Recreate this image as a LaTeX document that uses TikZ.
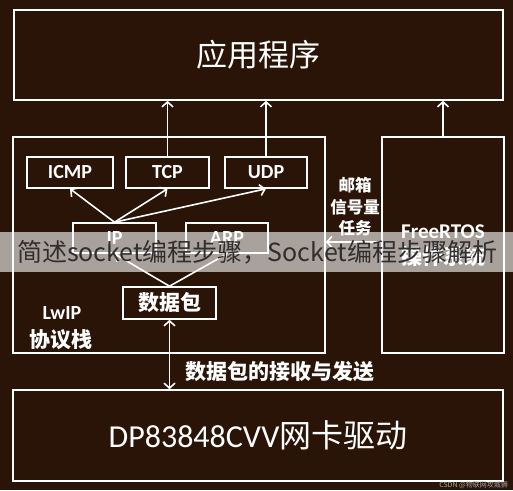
\documentclass[tikz,border=0pt]{standalone}
\usepackage{fontspec}
\setmainfont{Carlito}
\newfontfamily\cjk{Noto Sans CJK SC}
\usetikzlibrary{arrows.meta}
\definecolor{bg}{RGB}{42,20,8}
\definecolor{wmtext}{RGB}{48,46,46}
\begin{document}
\begin{tikzpicture}[x=1pt,y=-1pt,
  >={Straight Barb[length=5pt,width=11pt]},
  box/.style={draw=white, line width=1.6pt, inner sep=0pt, text=white},
  arr/.style={draw=white, line width=1.6pt},
  lbl/.style={text=white, inner sep=0pt, align=center},
  latb/.style={font=\bfseries\fontsize{20}{20}\selectfont},
  cjkb/.style={font=\cjk\bfseries\fontsize{#1}{#1}\selectfont}]
\fill[bg] (0,0) rectangle (513,490);
\useasboundingbox (0,0) rectangle (513,490);
% boxes
\node[box, minimum width=489pt, minimum height=90pt, font=\cjk\fontsize{31}{31}\selectfont] (app) at (258.5,55) {应用程序};
\node[box, minimum width=312pt, minimum height=216pt] (lwip) at (169,245) {};
\node[box, minimum width=122pt, minimum height=216pt] (fr) at (443,245) {};
\node[box, minimum width=490pt, minimum height=91pt, font=\fontsize{32}{32}\selectfont] (dp) at (258,435.5) {DP83848CVV{\cjk 网卡驱动}};
\node[box, latb, minimum width=86pt, minimum height=31pt] (icmp) at (70,172.5) {ICMP};
\node[box, latb, minimum width=83pt, minimum height=31pt] (tcp) at (167.5,172.5) {TCP};
\node[box, latb, minimum width=82pt, minimum height=31pt] (udp) at (266,172.5) {UDP};
\node[box, latb, minimum width=83pt, minimum height=30pt] (ip) at (114.5,238) {IP};
\node[box, latb, minimum width=82pt, minimum height=30pt] (arp) at (227,238) {ARP};
\node[box, cjkb=21, minimum width=93pt, minimum height=32pt] (pkt) at (169.5,303) {数据包};
% labels
\node[lbl, latb] (lwipt) at (62,313) {LwIP};
\node[lbl, cjkb=21] (lwipc) at (61,340) {协议栈};
\node[lbl, font=\bfseries\fontsize{21}{21}\selectfont] (frt) at (443,232) {FreeRTOS};
\node[lbl, cjkb=21] (frc) at (443,256) {操作系统};
\node[lbl, cjkb=16.5] (mb) at (355,185) {邮箱};
\node[lbl, cjkb=16.5] (sem) at (355,207) {信号量};
\node[lbl, cjkb=16.5] (task) at (355,228) {任务};
\node[lbl, cjkb=21, anchor=west] (rx) at (185,372) {数据包的接收与发送};
% connectors
\coordinate (yarr) at (0,242);
\draw[arr,->] (tcp.north) -- (tcp.north |- app.south);
\draw[arr,->] (udp.north) -- (udp.north |- app.south);
\draw[arr,->] (fr.north) -- (fr.north |- app.south);
\draw[arr,->] (ip.north) -- (icmp.south);
\draw[arr,->] (ip.north) -- (tcp.south);
\draw[arr,->] (ip.north) -- (udp.south);
\draw[arr,->] (pkt.north) -- (ip.south);
\draw[arr,->] (pkt.north) -- (arp.south);
\draw[arr,<->] (pkt.south) -- (pkt.south |- dp.north);
\draw[arr,->] (fr.west |- yarr) -- (lwip.east |- yarr);
% watermark band
\fill[white, opacity=0.6] (0,232) rectangle (513,272);
\node[inner sep=0pt, text=wmtext, font=\cjk\fontsize{25}{25}\selectfont] (wm) at (257,252) {简述socket编程步骤，Socket编程步骤解析};
\node[inner sep=0pt, text=gray!70, font=\cjk\fontsize{7}{7}\selectfont, anchor=east] (csdn) at (508,485) {CSDN @物联网攻城狮};
\end{tikzpicture}
\end{document}
